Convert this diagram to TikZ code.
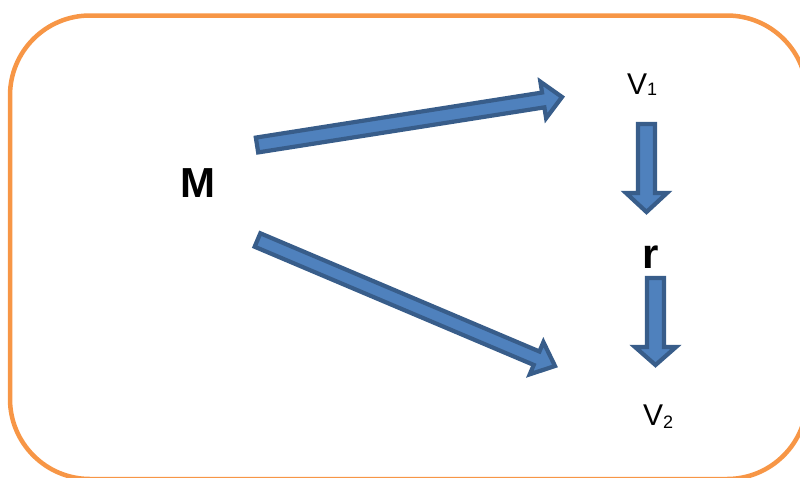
\documentclass[tikz,border=0pt]{standalone}
\usepackage{fontspec}
\setmainfont{Liberation Sans}
\usetikzlibrary{calc}
\definecolor{frameorange}{HTML}{F79646}
\definecolor{arrowfill}{HTML}{4F81BD}
\definecolor{arrowline}{HTML}{385D8A}
\tikzset{
  frame/.style={draw=frameorange, line width=4.5pt, rounded corners=80pt},
  blockarrow/.style={fill=arrowfill, draw=arrowline, line width=4.2pt, line join=miter},
  bigbold/.style={inner sep=0pt, anchor=base, font=\fontsize{42}{48}\selectfont\bfseries},
  vlabel/.style={inner sep=0pt, anchor=base west, font=\fontsize{30}{36}\selectfont},
}
% #1 tail, #2 tip, #3 shaft half width, #4 head half width, #5 head length
\newcommand{\myblockarrow}[5]{%
  \draw[blockarrow]
    ($(#1)!#3!90:(#2)$) --
    ($($(#2)!#5!(#1)$)!#3!90:(#2)$) --
    ($($(#2)!#5!(#1)$)!#4!90:(#2)$) --
    (#2) --
    ($($(#2)!#5!(#1)$)!#4!-90:(#2)$) --
    ($($(#2)!#5!(#1)$)!#3!-90:(#2)$) --
    ($(#1)!#3!-90:(#2)$) -- cycle;}
\begin{document}
\begin{tikzpicture}[x=1pt,y=-1pt]
\useasboundingbox (0,0) rectangle (800,477);
\begin{scope}
\clip (0,0) rectangle (800,477);
\draw[frame] (10,15.5) rectangle (807,479);
\end{scope}
% labels
\node[bigbold] (M) at (198,197) {M};
\node[bigbold] (r) at (651,268) {r};
\node[vlabel] (V1) at (627,94) {V{\fontsize{18}{20}\selectfont\raisebox{-1pt}{1}}};
\node[vlabel] (V2) at (643,425) {V{\fontsize{18}{20}\selectfont\raisebox{-3pt}{2}}};
% arrow end points
\coordinate (a1t) at (257,145);
\coordinate (a1h) at (562,97);
\coordinate (a2t) at (257.5,240);
\coordinate (a2h) at (555,366);
\coordinate (a3t) at (646.5,124);
\coordinate (a3h) at (646.5,212);
\coordinate (a4t) at (655.5,278);
\coordinate (a4h) at (655.5,365);
\myblockarrow{a1t}{a1h}{7.5pt}{18.5pt}{19pt}
\myblockarrow{a2t}{a2h}{7.3pt}{17.5pt}{20pt}
\myblockarrow{a3t}{a3h}{8.5pt}{20.5pt}{19pt}
\myblockarrow{a4t}{a4h}{8.5pt}{20.5pt}{18pt}
\end{tikzpicture}
\end{document}
